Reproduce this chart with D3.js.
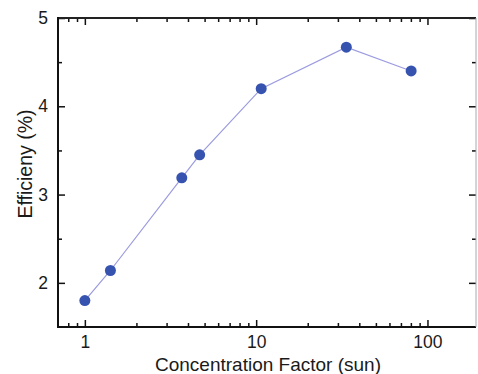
<!DOCTYPE html>
<html>
<head>
<meta charset="utf-8">
<script src="https://cdn.jsdelivr.net/npm/d3@7"></script>
<style>
  body { margin: 0; background: #fff; }
  text { font-family: "Liberation Sans", Arial, sans-serif; fill: #1a1a1a; }
</style>
</head>
<body>
<div id="chart"></div>
<script>
// values
var concentration = [1, 1.41, 3.68, 4.68, 10.7, 33.6, 80.3]
var efficiency = [1.8, 2.14, 3.19, 3.45, 4.2, 4.67, 4.40]
var xMajor = [1, 10, 100]
var xMinor = [0.8, 0.9, 2, 3, 4, 5, 6, 7, 8, 9, 20, 30, 40, 50, 60, 70, 80, 90]
var yMajor = [2, 3, 4, 5]
var yMinor = [2.5, 3.5, 4.5]

var width = 478
var height = 374
var plotLeft = 58, plotRight = 476, plotTop = 18, plotBottom = 327

var svg = d3.select('#chart')
  .append('svg')
  .attr('width', width)
  .attr('height', height)

var x = d3.scaleLog()
  .domain([0.697, 192])
  .range([plotLeft, plotRight])

var y = d3.scaleLinear()
  .domain([1.5, 5])
  .range([plotBottom, plotTop])

function styleAxis(g) {
  g.select('.domain').remove()
  g.selectAll('.tick line').attr('stroke', '#111').attr('stroke-width', 1.5)
}

// bottom axis
svg.append('g')
  .attr('transform', 'translate(0,' + plotBottom + ')')
  .call(d3.axisBottom(x).tickValues(xMajor).tickSize(-7).tickPadding(9).tickFormat(d3.format('d')))
  .call(styleAxis)
  .selectAll('text').attr('font-size', 17.5).attr('font-family', '"Liberation Sans", Arial, sans-serif')

svg.append('g')
  .attr('transform', 'translate(0,' + plotBottom + ')')
  .call(d3.axisBottom(x).tickValues(xMinor).tickSize(-4).tickFormat(''))
  .call(styleAxis)

// top axis
svg.append('g')
  .attr('transform', 'translate(0,' + plotTop + ')')
  .call(d3.axisTop(x).tickValues(xMajor).tickSize(-7).tickFormat(''))
  .call(styleAxis)

svg.append('g')
  .attr('transform', 'translate(0,' + plotTop + ')')
  .call(d3.axisTop(x).tickValues(xMinor).tickSize(-4).tickFormat(''))
  .call(styleAxis)

// left axis
svg.append('g')
  .attr('transform', 'translate(' + plotLeft + ',0)')
  .call(d3.axisLeft(y).tickValues(yMajor).tickSize(-7).tickPadding(10).tickFormat(d3.format('d')))
  .call(styleAxis)
  .selectAll('text').attr('font-size', 17.5).attr('font-family', '"Liberation Sans", Arial, sans-serif')

svg.append('g')
  .attr('transform', 'translate(' + plotLeft + ',0)')
  .call(d3.axisLeft(y).tickValues(yMinor).tickSize(-4).tickFormat(''))
  .call(styleAxis)

// right axis
svg.append('g')
  .attr('transform', 'translate(' + plotRight + ',0)')
  .call(d3.axisRight(y).tickValues(yMajor).tickSize(-7).tickFormat(''))
  .call(styleAxis)

svg.append('g')
  .attr('transform', 'translate(' + plotRight + ',0)')
  .call(d3.axisRight(y).tickValues(yMinor).tickSize(-4).tickFormat(''))
  .call(styleAxis)

// frame
svg.append('line')
  .attr('x1', plotLeft).attr('x2', plotRight).attr('y1', plotTop).attr('y2', plotTop)
  .attr('stroke', '#222').attr('stroke-width', 2)
svg.append('line')
  .attr('x1', plotLeft).attr('x2', plotRight).attr('y1', plotBottom).attr('y2', plotBottom)
  .attr('stroke', '#111').attr('stroke-width', 2)
svg.append('line')
  .attr('x1', plotLeft).attr('x2', plotLeft).attr('y1', plotTop - 1).attr('y2', plotBottom + 1)
  .attr('stroke', '#111').attr('stroke-width', 2)
svg.append('line')
  .attr('x1', plotRight).attr('x2', plotRight).attr('y1', plotTop).attr('y2', plotBottom)
  .attr('stroke', '#aaa').attr('stroke-width', 1)

var points = concentration.map(function(c, i) { return [c, efficiency[i]] })

var line = d3.line()
  .x(function(d) { return x(d[0]) })
  .y(function(d) { return y(d[1]) })

svg.append('path')
  .datum(points)
  .attr('d', line)
  .attr('fill', 'none')
  .attr('stroke', '#9b9be0')
  .attr('stroke-width', 1.2)

svg.selectAll('circle')
  .data(points)
  .enter()
  .append('circle')
  .attr('cx', function(d) { return x(d[0]) })
  .attr('cy', function(d) { return y(d[1]) })
  .attr('r', 5.5)
  .attr('fill', '#3753b0')

// axis titles
svg.append('text')
  .attr('x', 268)
  .attr('y', 371)
  .attr('text-anchor', 'middle')
  .attr('font-size', 19)
  .text('Concentration Factor (sun)')

svg.append('text')
  .attr('transform', 'translate(32,164) rotate(-90)')
  .attr('text-anchor', 'middle')
  .attr('font-size', 19.5)
  .text('Efficieny (%)')
</script>
</body>
</html>
